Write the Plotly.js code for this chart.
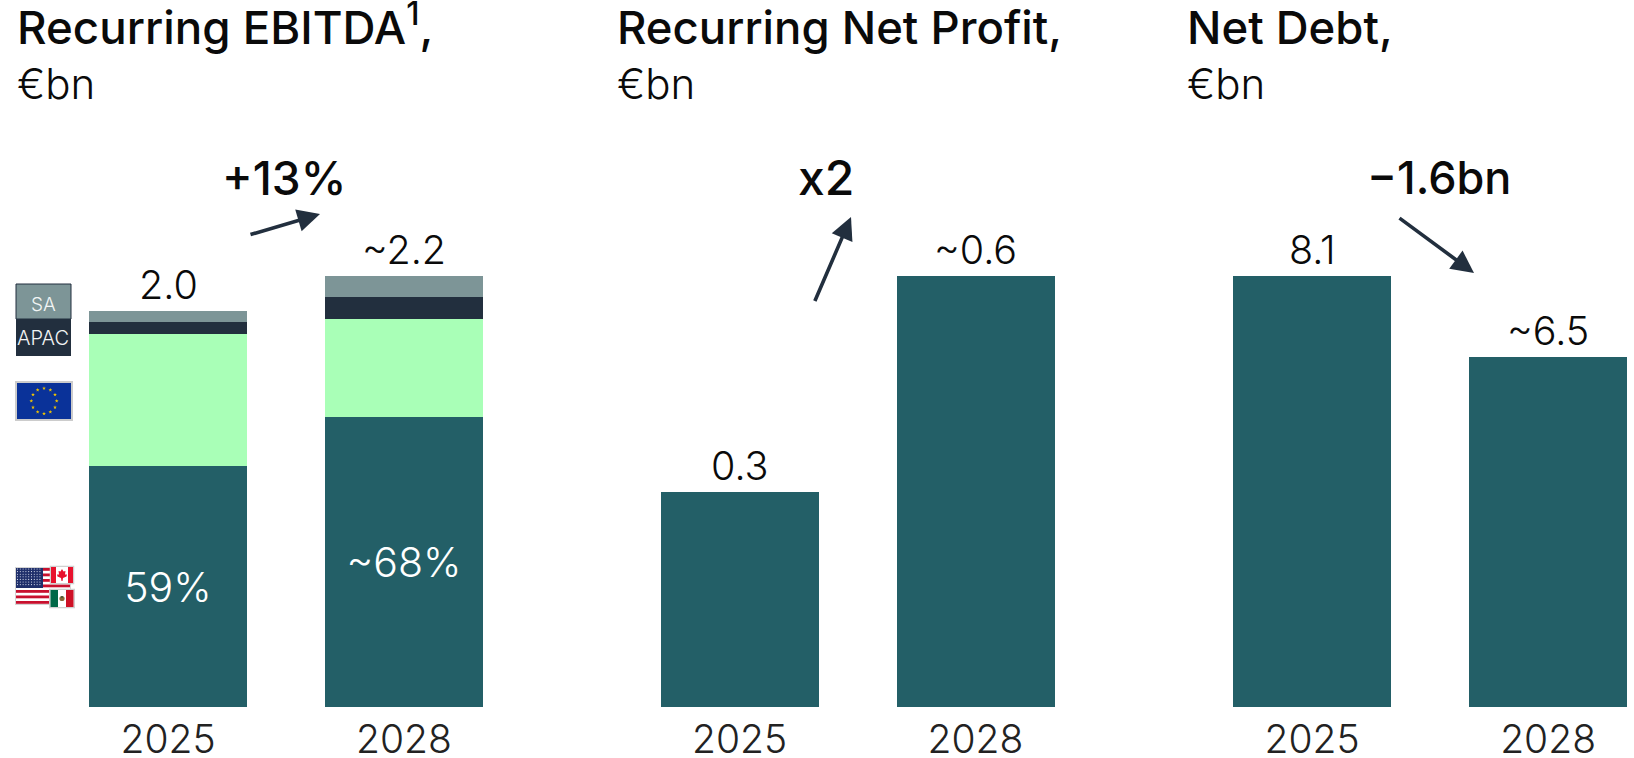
<!DOCTYPE html>
<html><head><meta charset="utf-8">
<script src="https://cdn.plot.ly/plotly-3.0.1.min.js"></script>
<style>html,body{margin:0;padding:0;background:#fff}#c{width:1634px;height:758px}</style>
</head><body><div id="c"></div>
<script>
var W=1634,H=758;
var years=['2025','2028'];
var ebitdaNA=[1.23,1.48];
var ebitdaEU=[0.674,0.502];
var ebitdaAPAC=[0.061,0.114];
var ebitdaSA=[0.058,0.104];
var ebitdaLabels=['2.0','~2.2'];
var ebitdaTotals=[2.023,2.2];
var naShare=['59%','~68%'];
var profit=[0.3,0.6];
var profitLabels=['0.3','~0.6'];
var debt=[8.1,6.58];
var debtLabels=['8.1','~6.5'];

var TEAL='#235f67',MINT='#a9ffb7',NAVY='#222f3e',GREY='#7d9597';
var FONT='Inter, "Open Sans", sans-serif';
function fx(x){return x/W}
function fy(y){return 1-y/H}

function bar(name,axis,y,color,extra){
  return Object.assign({type:'bar',name:name,x:years,y:y,xaxis:'x'+axis,yaxis:'y'+axis,
    marker:{color:color,line:{width:0}},hoverinfo:'skip',showlegend:false},extra||{});
}
var traces=[
  bar('North America','',ebitdaNA,TEAL,{text:naShare,textposition:'inside',insidetextanchor:'middle',textangle:0,
    constraintext:'none',textfont:{family:FONT,size:41,color:'#ffffff',weight:300}}),
  bar('Europe','',ebitdaEU,MINT),
  bar('APAC','',ebitdaAPAC,NAVY),
  bar('SA','',ebitdaSA,GREY),
  bar('Recurring Net Profit','2',profit,TEAL),
  bar('Net Debt','3',debt,TEAL)
];

function xax(l,r,range,anchor){return {domain:[fx(l),fx(r)],range:range,type:'category',categoryorder:'array',categoryarray:years,anchor:anchor,
  showgrid:false,zeroline:false,showline:false,ticks:'',tickfont:{family:FONT,size:39,color:'#222',weight:300},ticklabelstandoff:6,automargin:false,fixedrange:true}}
// the plot area runs above the tallest bar so that value labels stay in range
var BASE=707,TALL=276.3,TOP=200;
function yax(tallest,anchor){return {domain:[fy(BASE),fy(TOP)],range:[0,tallest*(BASE-TOP)/(BASE-TALL)],visible:false,fixedrange:true,anchor:anchor}}

var layout={width:W,height:H,margin:{l:0,r:0,t:0,b:0},paper_bgcolor:'#fff',plot_bgcolor:'rgba(0,0,0,0)',
  barmode:'stack',bargap:0.3305,showlegend:false,font:{family:FONT},
  xaxis:xax(50,522,[-0.5,1.5],'y'),
  yaxis:yax(2.2,'x'),
  xaxis2:xax(621.5,1093.5,[-0.5,1.5],'y2'),
  yaxis2:yax(0.6,'x2'),
  xaxis3:xax(1194,1634,[-0.5,1.364],'y3'),
  yaxis3:yax(8.1,'x3'),
  annotations:[],shapes:[],images:[]
};

function note(text,x,y,size,weight,anchor,color){
  layout.annotations.push({text:text,xref:'paper',yref:'paper',x:fx(x),y:fy(y),xanchor:anchor||'left',yanchor:'middle',
    showarrow:false,font:{family:FONT,size:size,weight:weight,color:color||'#0a0a0a'},borderpad:0,borderwidth:0});
}
note('Recurring EBITDA<sup>1</sup>,',17,25,45.7,500);
note('€bn',17,83,42,300);
note('Recurring Net Profit,',617,27,45.5,500);
note('€bn',617,83,42,300);
note('Net Debt,',1187,27,45.5,500);
note('€bn',1187,83,42,300);
note('+13%',283.5,178,46,500,'center');
note('x2',826,178,48,500,'center');
note('−1.6bn',1439,178,45,500,'center');

function valueLabels(labels,ys,ax){
  labels.forEach(function(t,i){
    layout.annotations.push({text:t,xref:'x'+ax,yref:'y'+ax,x:i,y:ys[i],yanchor:'bottom',xanchor:'center',yshift:1,
      showarrow:false,font:{family:FONT,size:39.5,weight:300,color:'#0a0a0a'},borderpad:0});
  });
}
valueLabels(ebitdaLabels,ebitdaTotals,'');
valueLabels(profitLabels,profit,'2');
valueLabels(debtLabels,debt,'3');

function arrow(x0,y0,x1,y1){
  layout.annotations.push({text:' ',font:{size:1},xref:'paper',yref:'paper',x:fx(x1),y:fy(y1),axref:'pixel',ayref:'pixel',ax:x0-x1,ay:y0-y1,
    showarrow:true,arrowhead:2,arrowsize:1.25,arrowwidth:3.6,arrowcolor:NAVY,standoff:0,startstandoff:0});
}
arrow(249,235,320,214);
arrow(814,303,851,217);
arrow(1398,217,1474,273);

// Region key: SA / APAC swatches
function rect(x0,y0,x1,y1,fill,line){layout.shapes.push({type:'rect',xref:'paper',yref:'paper',x0:fx(x0),x1:fx(x1),y0:fy(y0),y1:fy(y1),fillcolor:fill,line:line||{width:0}});}
rect(16,284,71,319,GREY,{color:NAVY,width:1});
rect(16,319,71,356,NAVY,{width:0});
note('SA',43.5,304,19,300,'center','#f2f5f5');
note('APAC',43,337.5,20,300,'center','#f2f5f5');

function svg(w,h,body){return 'data:image/svg+xml;charset=utf-8,'+encodeURIComponent('<svg xmlns="http://www.w3.org/2000/svg" width="'+w+'" height="'+h+'" viewBox="0 0 '+w+' '+h+'">'+body+'</svg>');}
function img(src,x,y,w,h){layout.images.push({source:src,xref:'paper',yref:'paper',x:fx(x),y:fy(y),sizex:w/W,sizey:h/H,xanchor:'left',yanchor:'top',sizing:'stretch',layer:'above'});}

// EU flag
var stars='';
for(var s=0;s<12;s++){
  var a=s*Math.PI/6, cx=29+12.7*Math.sin(a), cy=20-12.7*Math.cos(a), pts=[];
  for(var k=0;k<10;k++){var r=k%2?0.8:2, b=k*Math.PI/5; pts.push((cx+r*Math.sin(b)).toFixed(2)+','+(cy-r*Math.cos(b)).toFixed(2));}
  stars+='<polygon points="'+pts.join(' ')+'" fill="#f0c400"/>';
}
img(svg(58,40,'<rect x="1" y="1" width="56" height="38" fill="#0a3299" stroke="#cccccc" stroke-width="2"/>'+stars),15,381,58,40);

// US
var stripes='';
for(var i=0;i<7;i++){stripes+='<rect x="1" y="'+(1+i*5.5)+'" width="54" height="2.8" fill="#c8102e"/>';}
var dots='';
for(var dy=2;dy<20;dy+=2.6){for(var dx=2.5;dx<27;dx+=2.8){dots+='<circle cx="'+dx+'" cy="'+dy+'" r="0.55" fill="#dfe4f2"/>';}}
img(svg(56,38,'<rect x="0.5" y="0.5" width="55" height="37" fill="#fff" stroke="#d4d4d4"/>'+stripes+'<rect x="1" y="1" width="27" height="20" fill="#1f2f6b"/>'+dots),15,567,56,38);
// Canada
img(svg(25,19,'<rect x="0.75" y="0.75" width="23.5" height="17.5" fill="#fff" stroke="#d0d0d0" stroke-width="1.5"/><rect x="1.5" y="1.5" width="5" height="16" fill="#e8112d"/><rect x="18.5" y="1.5" width="5" height="16" fill="#e8112d"/><path d="M12.5 3.5 L14 6 L16 5.5 L15.5 9 L17.5 9 L17 11 L13.5 12.5 L13 15.5 L12 15.5 L11.5 12.5 L8 11 L7.5 9 L9.5 9 L9 5.5 L11 6 Z" fill="#e8112d"/>'),49.5,565.5,25,19);
// Mexico
img(svg(26,20,'<rect x="0.75" y="0.75" width="24.5" height="18.5" fill="#fff" stroke="#d0d0d0" stroke-width="1.5"/><rect x="1.5" y="1.5" width="7.5" height="17" fill="#006847"/><rect x="17" y="1.5" width="7.5" height="17" fill="#ce1126"/><circle cx="13" cy="10" r="2.6" fill="#8a6a3a"/><circle cx="13" cy="8.5" r="1" fill="#3d5a3a"/>'),49,588.5,26,20);

Plotly.newPlot('c',traces,layout,{displayModeBar:false,responsive:false,staticPlot:true});
</script></body></html>
